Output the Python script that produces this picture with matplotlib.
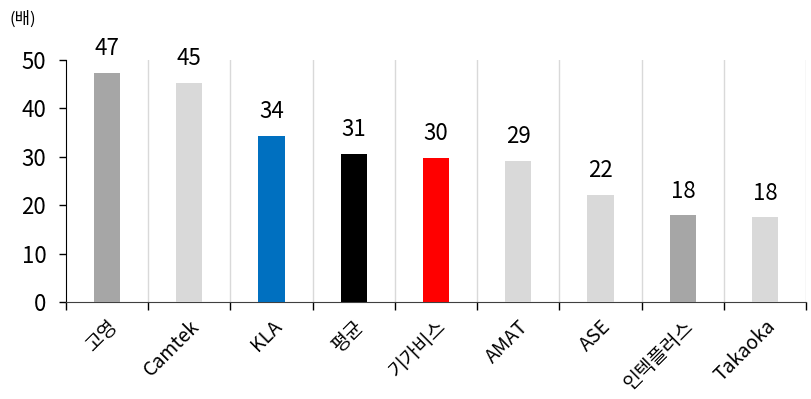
import matplotlib.pyplot as plt
import numpy as np

plt.rcParams['font.family'] = ['Noto Sans CJK KR', 'DejaVu Sans']

# data
names = ['고영', 'Camtek', 'KLA', '평균', '기가비스', 'AMAT', 'ASE', '인텍플러스', 'Takaoka']
values = [47.3, 45.3, 34.3, 30.6, 29.8, 29.2, 22.1, 17.9, 17.5]
colors = ['#A6A6A6', '#D9D9D9', '#0070C0', '#000000', '#FF0000',
          '#D9D9D9', '#D9D9D9', '#A6A6A6', '#D9D9D9']

fig = plt.figure(figsize=(8.12, 3.99), dpi=100)
ax = fig.add_axes([0.081, 0.243, 0.912, 0.607])

x = np.arange(len(names))
ax.bar(x, values, width=0.32, color=colors, zorder=3)

# value labels above bars
for xi, v in zip(x, values):
    ax.annotate(f'{round(v)}', (xi, v), xytext=(0, 9), textcoords='offset points',
                ha='center', va='bottom', fontsize=16)

ax.set_xlim(-0.5, len(names) - 0.5)
ax.set_ylim(0, 50)
ax.set_yticks([0, 10, 20, 30, 40, 50])
ax.tick_params(axis='y', labelsize=16, length=5, width=1, direction='out', pad=9)

# category labels at centers, ticks at boundaries
ax.set_xticks(x)
ax.set_xticklabels(names, rotation=45, ha='right', rotation_mode='anchor', fontsize=14)
ax.tick_params(axis='x', which='major', length=0, pad=10)
bounds = np.arange(-0.5, len(names), 1.0)
ax.set_xticks(bounds, minor=True)
ax.tick_params(axis='x', which='minor', length=6, width=1, direction='out')

# vertical separators
for b in bounds[1:]:
    ax.axvline(b, color='#D9D9D9', lw=1, zorder=1)

for s in ['top', 'right']:
    ax.spines[s].set_visible(False)
ax.spines['left'].set_color('black')
ax.spines['bottom'].set_color('#404040')

fig.text(0.012, 0.952, '(배)', fontsize=12, ha='left', va='center')

plt.savefig('out.png', dpi=100)
